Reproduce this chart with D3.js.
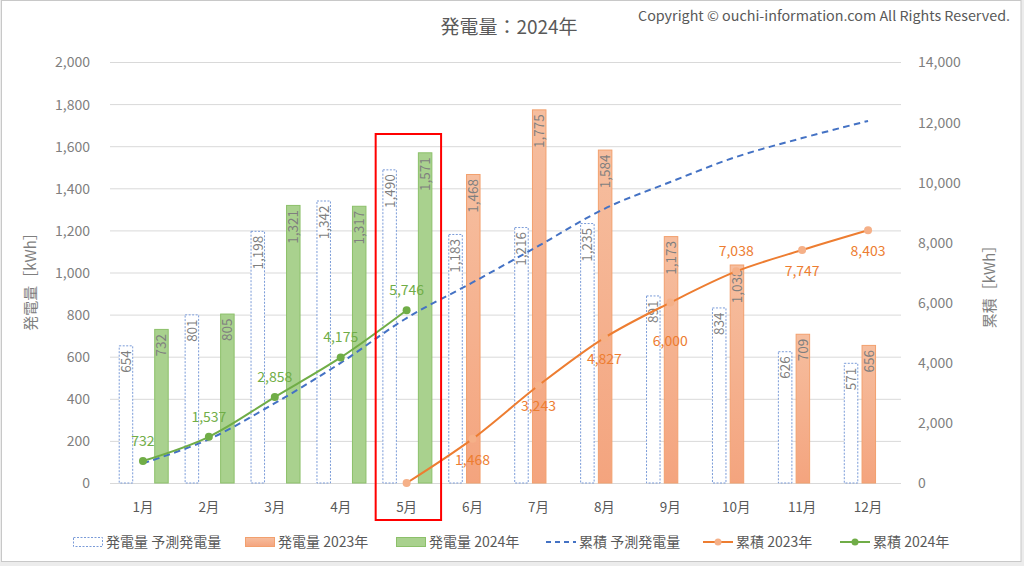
<!DOCTYPE html>
<html><head><meta charset="utf-8">
<script src="https://cdn.jsdelivr.net/npm/d3@7"></script>
<style>
html,body{margin:0;padding:0;background:#ececec;}
svg{display:block;}
text{font-family:"Noto Sans CJK JP","Noto Sans",sans-serif;}
</style></head>
<body>
<svg id="chart" width="1024" height="566"></svg>
<script>
// ---- data ----
const months = ["1月","2月","3月","4月","5月","6月","7月","8月","9月","10月","11月","12月"];
const forecastMonthly = [654,801,1198,1342,1490,1183,1216,1235,891,834,626,571];
const monthly2023 = [null,null,null,null,null,1468,1775,1584,1173,1038,709,656];
const monthly2024 = [732,805,1321,1317,1571,null,null,null,null,null,null,null];
const forecastCum = [654,1455,2653,3995,5485,6668,7884,9119,10010,10844,11470,12041];
const cum2023 = [null,null,null,null,0,1468,3243,4827,6000,7038,7747,8403];
const cum2024 = [732,1537,2858,4175,5746,null,null,null,null,null,null,null];
const leftTicks = [0,200,400,600,800,1000,1200,1400,1600,1800,2000];
const rightTicks = [0,2000,4000,6000,8000,10000,12000,14000];
const titleText = "発電量：2024年";
const copyrightText = "Copyright © ouchi-information.com All Rights Reserved.";
const legendLabels = ["発電量 予測発電量","発電量 2023年","発電量 2024年","累積 予測発電量","累積 2023年","累積 2024年"];
// label placement for cumulative labels (style)
const lbl2023Offset = [0,0,0,0,null,26,26,26,43,-15,26,26];
const lbl2024Offset = [-15,-15,-15,-15,-15,0,0,0,0,0,0,0];

// ---- setup ----
const svg = d3.select("#chart");
const fmt = d3.format(",");
const C = {blue:"#4472C4", orange:"#ED7D31", green:"#70AD47", grid:"#D9D9D9", text:"#7F7F7F", title:"#595959"};

svg.append("rect").attr("x",0).attr("y",0).attr("width",1024).attr("height",566).attr("fill","#ececec");
svg.append("rect").attr("x",1.5).attr("y",0.5).attr("width",1019.5).attr("height",561).attr("fill","#fff").attr("stroke","#c8c8c8");

const defs = svg.append("defs");
const grad = defs.append("linearGradient").attr("id","og").attr("x1",0).attr("y1",0).attr("x2",0).attr("y2",1);
grad.append("stop").attr("offset","0%").attr("stop-color","#F6BE9F");
grad.append("stop").attr("offset","100%").attr("stop-color","#F4A47E");

const x = d3.scaleBand().domain(months).range([110,901]);
const x1 = d3.scaleBand().domain(["f","a","b"]).range([-24.25,25.75]).paddingInner(0.183);
const yL = d3.scaleLinear().domain([0,2000]).range([483,62]);
const yR = d3.scaleLinear().domain([0,14000]).range([483,62]);
const cx = m => x(m) + x.bandwidth()/2;

// gridlines
svg.append("g").selectAll("line").data(leftTicks).join("line")
  .attr("x1",110).attr("x2",901).attr("y1",d=>yL(d)+0.5).attr("y2",d=>yL(d)+0.5)
  .attr("stroke",C.grid).attr("stroke-width",1);

// left axis
const axL = d3.axisLeft(yL).tickValues(leftTicks).tickFormat(fmt).tickSize(0).tickPadding(0);
const gL = svg.append("g").attr("transform","translate(90,0)").call(axL);
gL.select(".domain").remove();
gL.selectAll("text").attr("fill",C.text).style("font-size","14px").attr("dy","0.35em");

// right axis
const axR = d3.axisRight(yR).tickValues(rightTicks).tickFormat(fmt).tickSize(0).tickPadding(0);
const gR = svg.append("g").attr("transform","translate(918,0)").call(axR);
gR.select(".domain").remove();
gR.selectAll("text").attr("fill",C.text).style("font-size","14px").attr("dy","0.35em");

// bottom axis
const axB = d3.axisBottom(x).tickSize(0).tickPadding(0);
const gB = svg.append("g").attr("transform","translate(0,502)").call(axB);
gB.select(".domain").remove();
gB.selectAll("text").attr("fill",C.title).style("font-size","13.5px").attr("dy","0.75em");

// axis titles
svg.append("text").attr("transform","translate(36,278) rotate(-90)").attr("text-anchor","middle")
  .attr("fill",C.text).style("font-size","15px").text("発電量［kWh］");
svg.append("text").attr("transform","translate(995,283) rotate(-90)").attr("text-anchor","middle")
  .attr("fill",C.text).style("font-size","15px").text("累積［kWh］");

// bars
const barData = [];
months.forEach((m,i)=>{
  barData.push({m, s:"f", v:forecastMonthly[i]});
  if (monthly2023[i]!=null) barData.push({m, s:"a", v:monthly2023[i]});
  if (monthly2024[i]!=null) barData.push({m, s:"b", v:monthly2024[i]});
});
const gBars = svg.append("g");
gBars.selectAll("rect").data(barData).join("rect")
  .attr("x",d=>x(d.m)+x.bandwidth()/2+x1(d.s)+0.5)
  .attr("y",d=>yL(d.v)+0.5)
  .attr("width",x1.bandwidth()-1)
  .attr("height",d=>yL(0)-yL(d.v)-0.5)
  .attr("fill",d=>d.s==="f"?"#fff":d.s==="a"?"url(#og)":"#A9D18E")
  .attr("stroke",d=>d.s==="f"?"#7A9BD8":d.s==="a"?"#F2A06E":"#8CC06A")
  .attr("stroke-width",1)
  .attr("stroke-dasharray",d=>d.s==="f"?"2,1.5":null);

gBars.selectAll("text").data(barData).join("text")
  .attr("transform",d=>`translate(${x(d.m)+x.bandwidth()/2+x1(d.s)+x1.bandwidth()/2},${yL(d.v)+5}) rotate(-90)`)
  .attr("text-anchor","end").attr("dy","0.36em")
  .attr("fill","#7F7F7F").style("font-size","13.5px")
  .text(d=>fmt(d.v));

// lines
const lineGen = d3.line().defined(d=>d.v!=null).x(d=>cx(d.m)).y(d=>yR(d.v)).curve(d3.curveCatmullRom.alpha(0.5));
const toPts = arr => months.map((m,i)=>({m, v:arr[i], i}));

svg.append("path").datum(toPts(forecastCum)).attr("d",lineGen)
  .attr("fill","none").attr("stroke",C.blue).attr("stroke-width",2).attr("stroke-dasharray","6.5,4.5");

svg.append("path").datum(toPts(cum2023)).attr("d",lineGen)
  .attr("fill","none").attr("stroke",C.orange).attr("stroke-width",2);
svg.append("g").selectAll("circle").data(toPts(cum2023).filter(d=>d.v!=null)).join("circle")
  .attr("cx",d=>cx(d.m)).attr("cy",d=>yR(d.v)).attr("r",4).attr("fill","#F5B088");
svg.append("g").selectAll("text").data(toPts(cum2023).filter(d=>d.v!=null && d.v>0)).join("text")
  .attr("x",d=>cx(d.m)).attr("y",d=>yR(d.v)+lbl2023Offset[d.i]).attr("text-anchor","middle")
  .attr("fill",C.orange).style("font-size","14px").text(d=>fmt(d.v));

svg.append("path").datum(toPts(cum2024)).attr("d",lineGen)
  .attr("fill","none").attr("stroke",C.green).attr("stroke-width",2);
svg.append("g").selectAll("circle").data(toPts(cum2024).filter(d=>d.v!=null)).join("circle")
  .attr("cx",d=>cx(d.m)).attr("cy",d=>yR(d.v)).attr("r",4).attr("fill",C.green);
svg.append("g").selectAll("text").data(toPts(cum2024).filter(d=>d.v!=null)).join("text")
  .attr("x",d=>cx(d.m)).attr("y",d=>yR(d.v)+lbl2024Offset[d.i]).attr("text-anchor","middle")
  .attr("fill",C.green).style("font-size","14px").text(d=>fmt(d.v));

// highlight box
svg.append("rect").attr("x",x("5月")+2).attr("y",134).attr("width",x.bandwidth()-0.5).attr("height",386)
  .attr("fill","none").attr("stroke","#FF0000").attr("stroke-width",2);

// title & copyright
svg.append("text").attr("x",509).attr("y",34).attr("text-anchor","middle").attr("fill",C.title)
  .style("font-size","19px").text(titleText);
svg.append("text").attr("x",638).attr("y",21).attr("fill",C.title).style("font-size","13.5px")
  .attr("textLength",372).attr("lengthAdjust","spacingAndGlyphs").text(copyrightText);

// legend
const legX = [73,245,396,546,703,840];
const lg = svg.append("g");
legendLabels.forEach((t,i)=>{
  const g = lg.append("g").attr("transform",`translate(${legX[i]},542)`);
  if (i===0) g.append("rect").attr("x",0.5).attr("y",-4.5).attr("width",29).attr("height",9).attr("fill","#fff").attr("stroke","#7A9BD8").attr("stroke-dasharray","2,1.5");
  if (i===1) g.append("rect").attr("x",0.5).attr("y",-4.5).attr("width",29).attr("height",9).attr("fill","url(#og)").attr("stroke","#F2A06E");
  if (i===2) g.append("rect").attr("x",0.5).attr("y",-4.5).attr("width",29).attr("height",9).attr("fill","#A9D18E").attr("stroke","#8CC06A");
  if (i===3) g.append("line").attr("x1",0).attr("x2",30).attr("y1",0).attr("y2",0).attr("stroke",C.blue).attr("stroke-width",2).attr("stroke-dasharray","5,4");
  if (i===4){ g.append("line").attr("x1",0).attr("x2",30).attr("y1",0).attr("y2",0).attr("stroke",C.orange).attr("stroke-width",2);
    g.append("circle").attr("cx",15).attr("cy",0).attr("r",3.5).attr("fill","#F5B088"); }
  if (i===5){ g.append("line").attr("x1",0).attr("x2",30).attr("y1",0).attr("y2",0).attr("stroke",C.green).attr("stroke-width",2);
    g.append("circle").attr("cx",15).attr("cy",0).attr("r",3.5).attr("fill",C.green); }
  g.append("text").attr("x",33).attr("y",0).attr("dy","0.35em").attr("fill",C.title).style("font-size","14px").text(t);
});
</script>
</body></html>
